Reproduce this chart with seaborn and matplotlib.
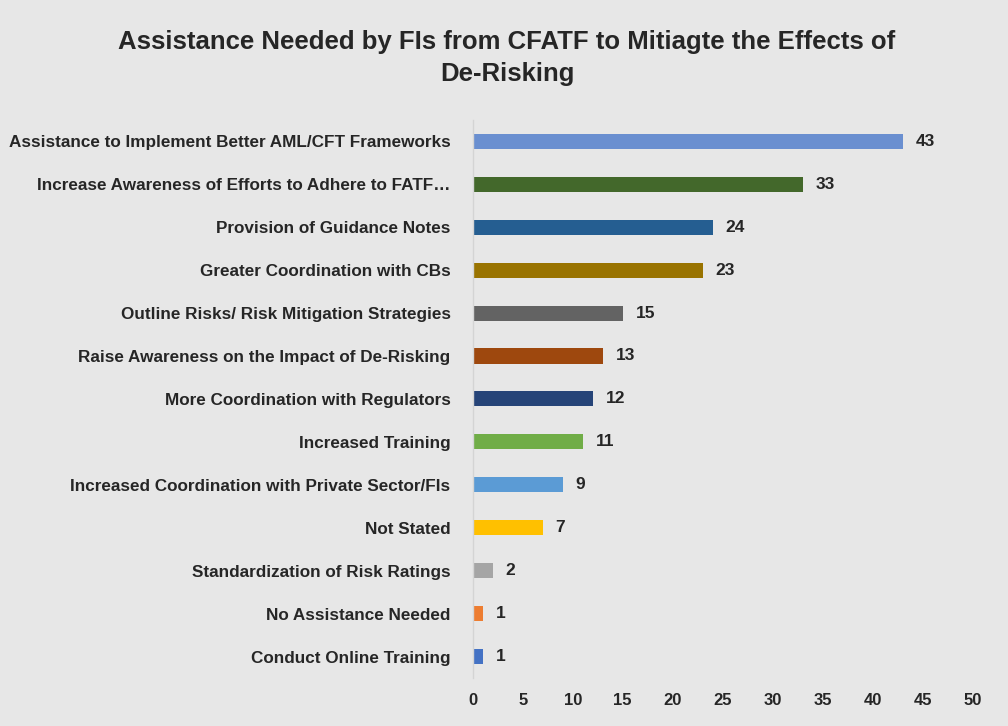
import matplotlib
matplotlib.use("Agg")
import matplotlib.pyplot as plt
import seaborn as sns
import pandas as pd

categories = [
    "Assistance to Implement Better AML/CFT Frameworks",
    "Increase Awareness of Efforts to Adhere to FATF\u2026",
    "Provision of Guidance Notes",
    "Greater Coordination with CBs",
    "Outline Risks/ Risk Mitigation Strategies",
    "Raise Awareness on the Impact of De-Risking",
    "More Coordination with Regulators",
    "Increased Training",
    "Increased Coordination with Private Sector/FIs",
    "Not Stated",
    "Standardization of Risk Ratings",
    "No Assistance Needed",
    "Conduct Online Training",
]
values = [43, 33, 24, 23, 15, 13, 12, 11, 9, 7, 2, 1, 1]
colors = ["#6a8fd0", "#43682b", "#255e91", "#997300", "#636363", "#9e480e",
          "#264478", "#70ad47", "#5b9bd5", "#ffc000", "#a5a5a5", "#ed7d31", "#4472c4"]
title = "Assistance Needed by FIs from CFATF to Mitiagte the Effects of\nDe-Risking"
xticks = [0, 5, 10, 15, 20, 25, 30, 35, 40, 45, 50]

sns.set_theme(style="white")
plt.rcParams['font.family'] = ['Liberation Sans', 'DejaVu Sans']

bg = "#e7e7e7"
txt = "#262626"
fig = plt.figure(figsize=(10.08, 7.26), dpi=100, facecolor=bg)
ax = fig.add_axes([0.469, 0.066, 0.496, 0.769])
ax.set_facecolor(bg)

df = pd.DataFrame({"cat": categories, "val": values})
sns.barplot(data=df, x="val", y="cat", hue="cat", palette=colors, order=categories,
            hue_order=categories, legend=False, width=0.35, orient="h", ax=ax,
            saturation=1, linewidth=0)

for i, v in enumerate(values):
    ax.text(v + 1.3, i, str(v), va="center", ha="left", fontsize=12.5,
            fontweight="bold", color=txt)

ax.set_xlim(0, 50)
ax.set_ylim(12.5, -0.5)
ax.set_xticks(xticks)
ax.set_xticklabels([str(t) for t in xticks], fontsize=12, fontweight="bold", color=txt)
ax.set_yticks(range(len(categories)))
ax.set_yticklabels(categories, fontsize=12.3, fontweight="bold", color=txt)
ax.set_xlabel("")
ax.set_ylabel("")
for s in ["top", "right", "bottom"]:
    ax.spines[s].set_visible(False)
ax.spines["left"].set_color("#d4d4d4")
ax.spines["left"].set_linewidth(1)
ax.tick_params(axis="y", length=4, color="#d4d4d4", pad=12)
ax.tick_params(axis="x", length=4, color="#d4d4d4", pad=11, direction="in")
ax.grid(False)

fig.text(0.503, 0.92, title, ha="center", va="center", fontsize=18.5,
         fontweight="bold", color=txt, linespacing=1.4)

fig.savefig("out.png", dpi=100, facecolor=bg)
